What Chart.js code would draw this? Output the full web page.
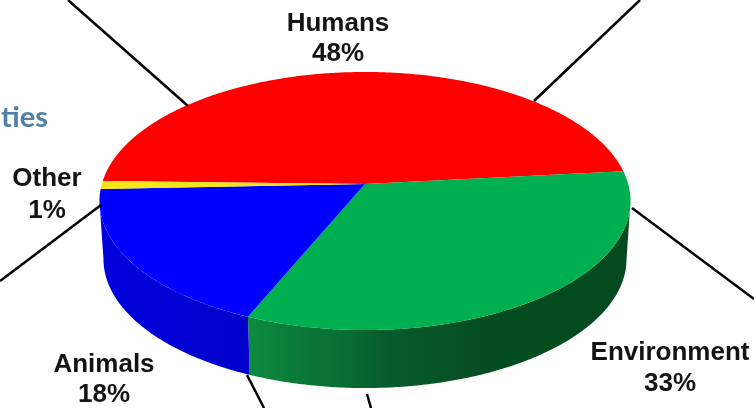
<!DOCTYPE html>
<html><head><meta charset="utf-8">
<style>html,body{margin:0;padding:0;background:#fff;overflow:hidden}canvas{display:block}</style>
<script src="https://cdn.jsdelivr.net/npm/chart.js@4"></script></head>
<body><canvas id="c" width="754" height="408"></canvas>
<script>
const categories=['Humans','Environment','Animals','Other'];
const shares=[48,33,18,1];
const topColors=['#ff0000','#00b050','#0000ff','#f5e61a'];
const wallStops=[
  [[0,'#aa0000'],[1,'#aa0000']],
  [[0,'#0d8b40'],[0.13,'#0a7a38'],[0.27,'#086b30'],[0.36,'#075c2b'],[0.6,'#054d22'],[1,'#044a1e']],
  [[0,'#0000dc'],[1,'#0000cc']],
  [[0,'#c0b000'],[1,'#c0b000']]
];
const labelPos=[[338,31,61],[670,360,391],[104,372,402],[47,186,218]];
const leaderLines=[[68,0,188,106],[640,0,534,101],[632,208,754,299],[101,205,0,281],[247,375,264,408],[367,394,371,408]];
const fragment='ties';

const A=263.2,B=126.8,K=0.1318,DEPTH=58,WALLX=0.985;
function project(el,ang,wall){
  const c=Math.cos(ang),s=Math.sin(ang),d=1-K*s;
  const f=wall?WALLX:1;
  return [el.x+f*A*c/d, el.y+B*s/d+(wall?DEPTH:0)];
}
function rim(ctx,el,a,b,wall,first){
  const n=Math.max(2,Math.ceil(Math.abs(b-a)/0.01));
  for(let i=0;i<=n;i++){
    const p=project(el,a+(b-a)*i/n,wall);
    if(i===0&&first)ctx.moveTo(p[0],p[1]);else ctx.lineTo(p[0],p[1]);
  }
}
const piePlugin={
  id:'pie3d',
  beforeDatasetsDraw(chart){
    const ctx=chart.ctx,meta=chart.getDatasetMeta(0);
    const lo=Math.asin(K),hi=Math.PI-lo;
    meta.data.forEach((el,i)=>{
      let a=el.startAngle,b=el.endAngle;
      const norm=t=>{while(t>Math.PI*1.5)t-=Math.PI*2;while(t<-Math.PI/2)t+=Math.PI*2;return t;};
      a=norm(a);b=a+(el.endAngle-el.startAngle);
      a=Math.max(a,lo);b=Math.min(b,hi);
      if(b>a){
        const xs=[];
        for(let j=0;j<=40;j++)xs.push(project(el,a+(b-a)*j/40,false)[0]);
        const x0=Math.min(...xs),x1=Math.max(...xs);
        const g=ctx.createLinearGradient(x0,0,x1,0);
        wallStops[i].forEach(st=>g.addColorStop(st[0],st[1]));
        ctx.save();ctx.beginPath();
        rim(ctx,el,a,b,false,true);
        rim(ctx,el,b,a,true,false);
        ctx.closePath();ctx.fillStyle=g;ctx.fill();ctx.restore();
      }
      el.draw=function(c){
        c.save();c.beginPath();c.moveTo(this.x,this.y);
        rim(c,this,this.startAngle,this.endAngle,false,false);
        c.closePath();c.fillStyle=this.options.backgroundColor;c.fill();c.restore();
      };
    });
  },
  afterDatasetsDraw(chart){
    const ctx=chart.ctx;
    ctx.save();
    ctx.strokeStyle='#000';ctx.lineWidth=2.5;
    leaderLines.forEach(l=>{ctx.beginPath();ctx.moveTo(l[0],l[1]);ctx.lineTo(l[2],l[3]);ctx.stroke();});
    ctx.fillStyle='#141414';ctx.textAlign='center';ctx.textBaseline='alphabetic';
    ctx.font='bold 26px "Liberation Sans"';
    categories.forEach((name,i)=>{
      ctx.fillText(name,labelPos[i][0],labelPos[i][1]);
      ctx.fillText(shares[i]+'%',labelPos[i][0],labelPos[i][2]);
    });
    ctx.fillStyle='#4f7fa8';ctx.textAlign='left';
    ctx.font='bold 29px "Lato"';
    ctx.fillText(fragment,1,127);
    ctx.restore();
  }
};
new Chart(document.getElementById('c'),{
  type:'pie',
  data:{labels:categories,datasets:[{data:shares,backgroundColor:topColors,borderWidth:0}]},
  options:{
    responsive:false,animation:false,rotation:271.4,
    layout:{padding:{left:0,right:24,top:0,bottom:40}},
    plugins:{legend:{display:false},tooltip:{enabled:false}}
  },
  plugins:[piePlugin]
});
</script></body></html>
